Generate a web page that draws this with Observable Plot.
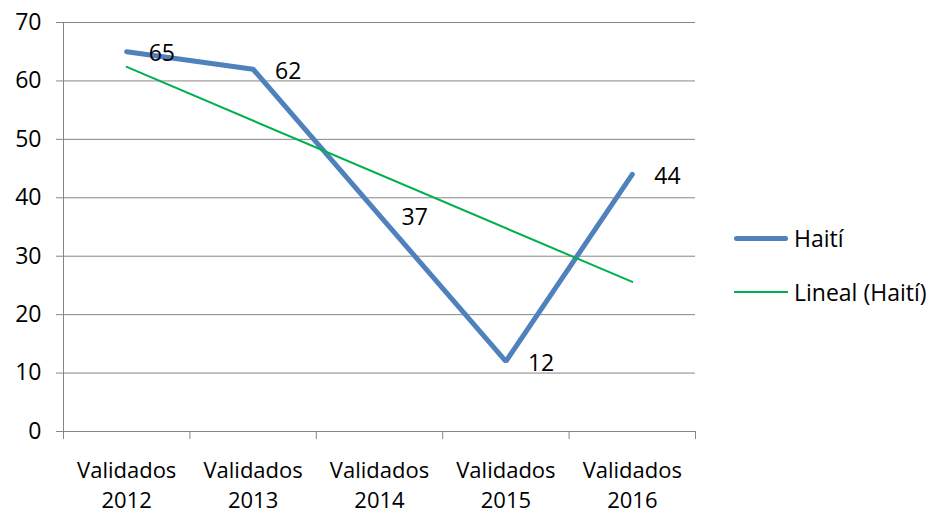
<!DOCTYPE html>
<html><head><meta charset="utf-8">
<script src="https://cdn.jsdelivr.net/npm/d3@7"></script>
<script src="https://cdn.jsdelivr.net/npm/@observablehq/plot@0.6"></script>
<style>
body{margin:0;background:#fff;}
#wrap{position:relative;width:932px;height:517px;font-family:"Open Sans",sans-serif;}
.leg{position:absolute;left:734px;font-size:23px;color:#000;display:flex;align-items:center;line-height:30px;white-space:nowrap;}
.leg span.sw{display:inline-block;width:54px;margin-right:6px;}
</style></head>
<body><div id="wrap"></div>
<script>
const categories = ["Validados 2012","Validados 2013","Validados 2014","Validados 2015","Validados 2016"];
const values = [65, 62, 37, 12, 44];
const yTicks = [0,10,20,30,40,50,60,70];
const seriesName = "Haití";
const trendName = "Lineal (Haití)";

const data = categories.map((c,i)=>({i:i+1, cat:c, v:values[i]}));
const bounds = d3.range(0.5, categories.length+1, 1);
const gray = "#868686";
const font = "'Open Sans', sans-serif";
const fs = 23;

const chart = Plot.plot({
  width:932, height:517,
  marginLeft:63, marginRight:237, marginTop:22, marginBottom:86,
  style:{fontFamily:font, fontSize:fs+"px", color:"#000", background:"#fff", overflow:"visible"},
  x:{domain:[0.5, categories.length+0.5], axis:null, label:null},
  y:{domain:[0,70], axis:null, label:null},
  marks:[
    Plot.ruleY(yTicks, {stroke:gray, strokeWidth:1}),
    Plot.axisY(yTicks, {tickSize:7, stroke:gray, text:null, strokeOpacity:1, label:null}),
    Plot.axisY(yTicks, {tickSize:0, tickPadding:22, fontSize:fs, fill:"#000", label:null}),
    Plot.ruleX([0.5], {stroke:gray, strokeWidth:1}),
    Plot.axisX(bounds, {tickSize:8, stroke:gray, text:null, anchor:"bottom", strokeOpacity:1, label:null}),
    Plot.text(data, {x:"i", y:0, text:d=>d.cat.replace(" ","\n"), dy:52, lineHeight:1.35, fontSize:22, fill:"#000"}),
    Plot.line(data, {x:"i", y:"v", stroke:"#4F81BD", strokeWidth:5, strokeLinejoin:"miter", strokeLinecap:"round"}),
    Plot.linearRegressionY(data, {x:"i", y:"v", ci:0, stroke:"#00B050", strokeWidth:2}),
    Plot.text(data, {x:"i", y:"v", text:d=>String(d.v), textAnchor:"start", dx:22, dy:2, fontSize:fs, fill:"#000"})
  ]
});
const wrap = document.getElementById("wrap");
wrap.appendChild(chart);
const l1 = document.createElement("div");
l1.className="leg"; l1.style.top="223px";
l1.innerHTML = `<span class="sw" style="height:5px;background:#4F81BD;border-radius:3px"></span>${seriesName}`;
const l2 = document.createElement("div");
l2.className="leg"; l2.style.top="277px";
l2.innerHTML = `<span class="sw" style="height:2px;background:#00B050"></span>${trendName}`;
wrap.appendChild(l1); wrap.appendChild(l2);
</script></body></html>
